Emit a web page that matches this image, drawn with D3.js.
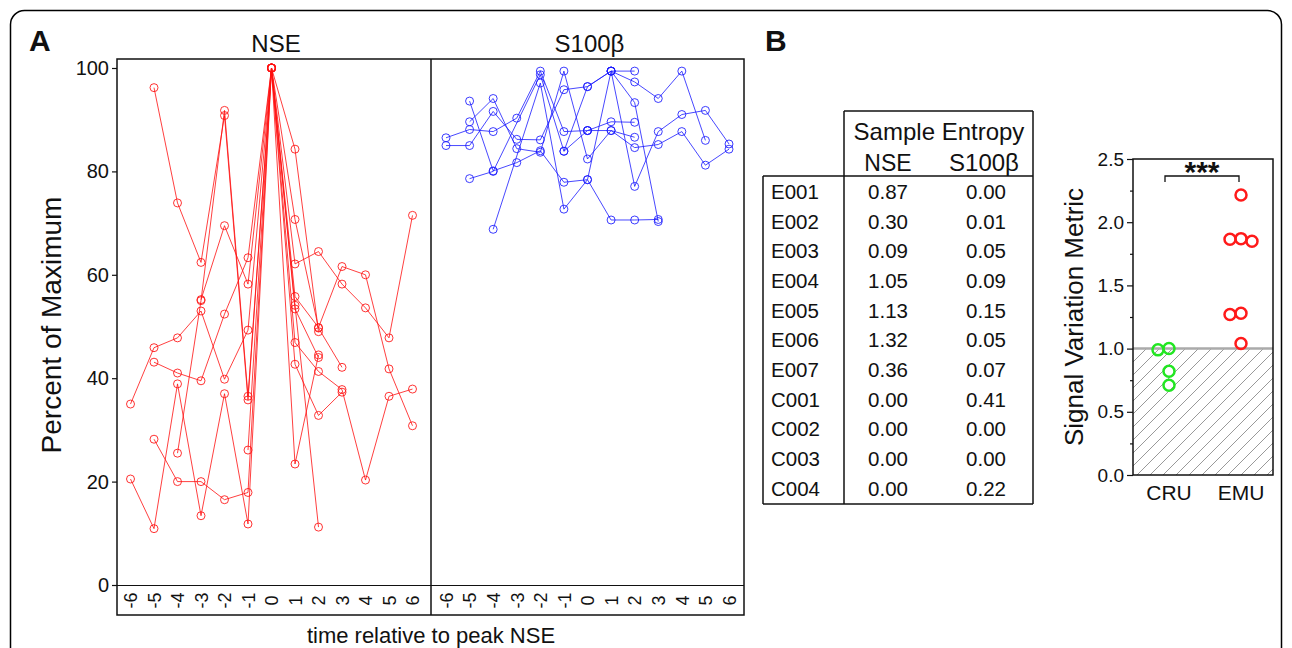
<!DOCTYPE html>
<html>
<head>
<meta charset="utf-8">
<script src="https://cdn.jsdelivr.net/npm/d3@7"></script>
<style>
  body { margin: 0; background: #fff; }
  text { font-family: Arial, "Liberation Sans", sans-serif; fill: #111; }
</style>
</head>
<body>
<svg id="chart" width="1292" height="648"></svg>
<script>
// ---- data ----
const timeTicks = [-6, -5, -4, -3, -2, -1, 0, 1, 2, 3, 4, 5, 6];
const pctTicks = [0, 20, 40, 60, 80, 100];

// NSE traces, [time, percent of max]
const nseSeries = [
  [[-5, 96.2], [-4, 73.9], [-3, 62.4], [-2, 90.8], [-1, 35.8], [0, 100], [1, 84.3], [2, 49.0]],
  [[-6, 35.0], [-5, 45.9], [-4, 47.8], [-3, 53.0], [-2, 39.8], [-1, 49.3], [0, 100], [1, 62.1], [2, 64.5], [3, 58.2], [4, 53.6], [5, 47.8], [6, 71.5]],
  [[-5, 43.1], [-4, 41.0], [-3, 39.5], [-2, 52.4], [-1, 63.3], [0, 100], [1, 55.8], [2, 49.8], [3, 61.6], [4, 60.0], [5, 41.8], [6, 30.8]],
  [[-5, 28.2], [-4, 20.0], [-3, 20.0], [-2, 16.5], [-1, 17.9], [0, 100], [1, 46.9], [2, 41.3], [3, 37.8], [4, 20.3], [5, 36.5], [6, 37.9]],
  [[-6, 20.5], [-5, 10.9], [-4, 38.9], [-3, 13.4], [-2, 37.0], [-1, 11.8], [0, 100], [1, 42.7], [2, 32.8], [3, 37.3]],
  [[-4, 25.5], [-3, 55.0], [-2, 91.8], [-1, 36.5], [0, 100], [1, 23.4], [2, 44.5]],
  [[-3, 55.2], [-2, 69.5], [-1, 58.2], [0, 100], [1, 54.1], [2, 11.2]],
  [[-1, 26.1], [0, 100], [1, 70.7], [2, 49.7], [3, 42.1]],
  [[0, 100], [1, 53.4], [2, 44.0]]
];

// S100b traces, [time, percent of max]
const s100Series = [
  [[-6, 86.5], [-5, 88.1], [-4, 87.7], [-3, 90.3], [-2, 99.4], [-1, 87.7], [0, 87.9], [1, 89.6], [2, 89.5]],
  [[-6, 85.0], [-5, 85.0], [-4, 91.6], [-3, 86.2], [-2, 86.1], [-1, 95.8], [0, 96.4], [1, 99.4], [2, 77.1], [3, 87.7], [4, 91.0], [5, 91.8], [6, 85.3]],
  [[-5, 89.6], [-4, 94.1], [-3, 84.4], [-2, 83.7], [-1, 99.4], [0, 82.4], [1, 87.9], [2, 84.6], [3, 85.2], [4, 87.7], [5, 81.2], [6, 84.3]],
  [[-5, 93.6], [-4, 80.1], [-3, 81.7], [-2, 84.0], [-1, 77.9], [0, 78.4], [1, 70.6], [2, 70.6], [3, 70.7]],
  [[-5, 78.6], [-4, 80.0], [-2, 98.7], [-1, 83.9], [0, 87.9]],
  [[-4, 68.8], [-2, 97.1], [-1, 72.7], [0, 78.4], [1, 99.4], [2, 97.3], [3, 94.1], [4, 99.4], [5, 86.0]],
  [[-1, 83.9], [0, 96.4], [1, 99.4], [2, 93.3], [3, 70.3]],
  [[0, 87.9], [1, 87.9], [2, 86.6]],
  [[1, 99.4], [2, 99.4]]
];

// table B
const subjects = ["E001", "E002", "E003", "E004", "E005", "E006", "E007", "C001", "C002", "C003", "C004"];
const sampEnNSE = [0.87, 0.30, 0.09, 1.05, 1.13, 1.32, 0.36, 0.00, 0.00, 0.00, 0.00];
const sampEnS100 = [0.00, 0.01, 0.05, 0.09, 0.15, 0.05, 0.07, 0.41, 0.00, 0.00, 0.22];

// signal variation metric
const groups = ["CRU", "EMU"];
const cruSVM = [1.00, 0.99, 0.82, 0.71];
const emuSVM = [2.215, 1.87, 1.865, 1.85, 1.28, 1.27, 1.04];
const svmTicks = [0, 0.5, 1.0, 1.5, 2.0, 2.5];
const svmMinorTicks = [0.25, 0.75, 1.25, 1.75, 2.25];

// ---- drawing ----
const svg = d3.select("#chart");

// outer rounded frame
svg.append("rect")
    .attr("x", 10.5).attr("y", 10.5)
    .attr("width", 1271).attr("height", 700)
    .attr("rx", 14)
    .style("fill", "none")
    .style("stroke", "#000")
    .style("stroke-width", 1.5);

svg.append("text").attr("x", 29).attr("y", 51)
    .style("font-size", "30px").style("font-weight", "bold").text("A");
svg.append("text").attr("x", 765).attr("y", 51)
    .style("font-size", "30px").style("font-weight", "bold").text("B");

// panel A
const yPct = d3.scaleLinear().domain([0, 100]).range([585, 68]);
const plotTop = 59, plotBottom = 615, axisY = 585.5;

const panels = [
    {title: "NSE", series: nseSeries, color: "#ff1010", left: 117, right: 431,
     x: d3.scaleLinear().domain([-6, 6]).range([130.5, 412.5])},
    {title: "S100β", series: s100Series, color: "#1a1aff", left: 431, right: 744,
     x: d3.scaleLinear().domain([-6, 6]).range([446, 729])}
];

panels.forEach(p => {
    const g = svg.append("g");
    const line = d3.line().x(d => p.x(d[0])).y(d => yPct(d[1]));

    g.selectAll("path.trace")
        .data(p.series).enter()
        .append("path")
        .attr("class", "trace")
        .attr("d", line)
        .style("fill", "none")
        .style("stroke", p.color)
        .style("stroke-opacity", 0.8)
        .style("stroke-width", 1);

    g.selectAll("circle")
        .data(p.series.flat()).enter()
        .append("circle")
        .attr("cx", d => p.x(d[0]))
        .attr("cy", d => yPct(d[1]))
        .attr("r", 4)
        .style("fill", "none")
        .style("stroke", p.color)
        .style("stroke-opacity", 0.85)
        .style("stroke-width", 1);

    // x tick labels, rotated
    const ax = svg.append("g")
        .attr("transform", `translate(0,${axisY})`)
        .call(d3.axisBottom(p.x).tickValues(timeTicks).tickSize(0).tickFormat(d => String(d)));
    ax.select(".domain").remove();
    ax.selectAll("text")
        .attr("y", 0).attr("dy", "0.35em")
        .attr("transform", "translate(0,15) rotate(-90)")
        .style("text-anchor", "middle")
        .style("font-size", "18px")
        .style("font-family", "Arial, 'Liberation Sans', sans-serif")
        .style("fill", "#111");

    svg.append("text")
        .attr("x", (p.left + p.right) / 2 + 2).attr("y", 52)
        .style("text-anchor", "middle").style("font-size", "24px")
        .text(p.title);
});

// frames
svg.append("rect")
    .attr("x", 117).attr("y", plotTop)
    .attr("width", 744 - 117).attr("height", plotBottom - plotTop)
    .style("fill", "none").style("stroke", "#111").style("stroke-width", 1.5);
svg.append("line")
    .attr("x1", 431).attr("x2", 431).attr("y1", plotTop).attr("y2", plotBottom)
    .style("stroke", "#111").style("stroke-width", 1.5);
svg.append("line")
    .attr("x1", 117).attr("x2", 744).attr("y1", axisY).attr("y2", axisY)
    .style("stroke", "#111").style("stroke-width", 1.2);

// y axis
const yAx = svg.append("g")
    .attr("transform", "translate(117,0)")
    .call(d3.axisLeft(yPct).tickValues(pctTicks).tickSize(5).tickPadding(3).tickFormat(d => String(d)));
yAx.select(".domain").remove();
yAx.selectAll("line").style("stroke", "#111").style("stroke-width", 1.2);
yAx.selectAll("text")
    .style("font-size", "20px")
    .style("font-family", "Arial, 'Liberation Sans', sans-serif")
    .style("fill", "#111");

svg.append("text")
    .attr("transform", "translate(61,325) rotate(-90)")
    .style("text-anchor", "middle").style("font-size", "28px")
    .text("Percent of Maximum");

svg.append("text")
    .attr("x", 431).attr("y", 643)
    .style("text-anchor", "middle").style("font-size", "22px")
    .text("time relative to peak NSE");

// table B
const tbl = svg.append("g");
const rowY = d3.scaleLinear().domain([0, subjects.length - 1]).range([191.7, 488.3]);
const tLine = (x1, y1, x2, y2) => tbl.append("line")
    .attr("x1", x1).attr("y1", y1).attr("x2", x2).attr("y2", y2)
    .style("stroke", "#111").style("stroke-width", 1.5);
tLine(844, 111, 1033, 111);
tLine(844, 111, 844, 504);
tLine(1033, 111, 1033, 504);
tLine(763, 176, 1033, 176);
tLine(763, 176, 763, 504);
tLine(763, 504, 1033, 504);

tbl.append("text").attr("x", 939).attr("y", 140)
    .style("text-anchor", "middle").style("font-size", "24px").text("Sample Entropy");
tbl.append("text").attr("x", 888).attr("y", 171)
    .style("text-anchor", "middle").style("font-size", "23px").text("NSE");
tbl.append("text").attr("x", 984).attr("y", 171)
    .style("text-anchor", "middle").style("font-size", "24px").text("S100β");

const fmt2 = d3.format(".2f");
const rows = tbl.selectAll("g.row")
    .data(subjects).enter()
    .append("g").attr("class", "row")
    .attr("transform", (d, i) => `translate(0,${rowY(i)})`);
rows.append("text").attr("x", 771).attr("dy", "0.36em")
    .style("font-size", "20.5px").text(d => d);
rows.append("text").attr("x", 888).attr("dy", "0.36em")
    .style("text-anchor", "middle").style("font-size", "20.5px").text((d, i) => fmt2(sampEnNSE[i]));
rows.append("text").attr("x", 986).attr("dy", "0.36em")
    .style("text-anchor", "middle").style("font-size", "20.5px").text((d, i) => fmt2(sampEnS100[i]));

// signal variation metric panel
const fx0 = 1133, fx1 = 1273, fy0 = 159, fy1 = 475;
const ySvm = d3.scaleLinear().domain([0, 2.5]).range([fy1, fy0]);
const xGrp = d3.scalePoint().domain(groups).range([1169, 1241]);

const defs = svg.append("defs");
defs.append("pattern")
    .attr("id", "hatch")
    .attr("patternUnits", "userSpaceOnUse")
    .attr("width", 13).attr("height", 13)
    .append("path")
    .attr("d", "M-1,1 l2,-2 M0,13 l13,-13 M12,14 l2,-2")
    .style("stroke", "#999").style("stroke-width", 1);

svg.append("rect")
    .attr("x", fx0).attr("y", ySvm(1))
    .attr("width", fx1 - fx0).attr("height", ySvm(0) - ySvm(1))
    .style("fill", "url(#hatch)");
svg.append("line")
    .attr("x1", fx0).attr("x2", fx1).attr("y1", ySvm(1)).attr("y2", ySvm(1))
    .style("stroke", "#aaa").style("stroke-width", 2.5);
svg.append("rect")
    .attr("x", fx0).attr("y", fy0)
    .attr("width", fx1 - fx0).attr("height", fy1 - fy0)
    .style("fill", "none").style("stroke", "#111").style("stroke-width", 1.5);

const svmAx = svg.append("g")
    .attr("transform", `translate(${fx0},0)`)
    .call(d3.axisLeft(ySvm).tickValues(svmTicks).tickSize(6).tickPadding(3).tickFormat(d3.format(".1f")));
svmAx.select(".domain").remove();
svmAx.selectAll("line").style("stroke", "#111").style("stroke-width", 1.2);
svmAx.selectAll("text")
    .style("font-size", "19px")
    .style("font-family", "Arial, 'Liberation Sans', sans-serif")
    .style("fill", "#111");
const svmMinor = svg.append("g")
    .attr("transform", `translate(${fx0},0)`)
    .call(d3.axisLeft(ySvm).tickValues(svmMinorTicks).tickSize(3).tickFormat(""));
svmMinor.select(".domain").remove();
svmMinor.selectAll("line").style("stroke", "#111").style("stroke-width", 1.2);

svg.selectAll("text.grp")
    .data(groups).enter()
    .append("text").attr("class", "grp")
    .attr("x", d => xGrp(d)).attr("y", 500)
    .style("text-anchor", "middle").style("font-size", "21px")
    .text(d => d);

svg.append("text")
    .attr("transform", "translate(1083,317) rotate(-90)")
    .style("text-anchor", "middle").style("font-size", "26px")
    .text("Signal Variation Metric");

// dodge points horizontally so circles don't overlap
function dodge(vals, cx, r) {
    const placed = [];
    return vals.map(v => {
        const y = ySvm(v);
        let x = cx;
        for (const k of [0, -1, 1, -2, 2]) {
            const cand = cx + k * 2 * r;
            if (placed.every(p => Math.hypot(p[0] - cand, p[1] - y) >= 2 * r)) { x = cand; break; }
        }
        placed.push([x, y]);
        return [x, y];
    });
}
const rPt = 5.5;
const svmGroups = [
    {pts: dodge(cruSVM, xGrp("CRU"), rPt), color: "#22e622"},
    {pts: dodge(emuSVM, xGrp("EMU"), rPt), color: "#ff1a1a"}
];
svmGroups.forEach(gp => {
    svg.append("g").selectAll("circle")
        .data(gp.pts).enter()
        .append("circle")
        .attr("cx", d => d[0]).attr("cy", d => d[1])
        .attr("r", rPt)
        .style("fill", "none")
        .style("stroke", gp.color)
        .style("stroke-width", 2.5);
});

// significance bracket
const bx0 = xGrp("CRU") - 4, bx1 = xGrp("EMU") - 2, by = 176;
svg.append("path")
    .attr("d", `M${bx0},${by + 6} V${by} H${bx1} V${by + 6}`)
    .style("fill", "none").style("stroke", "#111").style("stroke-width", 1.3);
svg.append("text")
    .attr("x", (bx0 + bx1) / 2).attr("y", 182)
    .style("text-anchor", "middle").style("font-size", "30px").style("font-weight", "bold")
    .text("***");
</script>
</body>
</html>
